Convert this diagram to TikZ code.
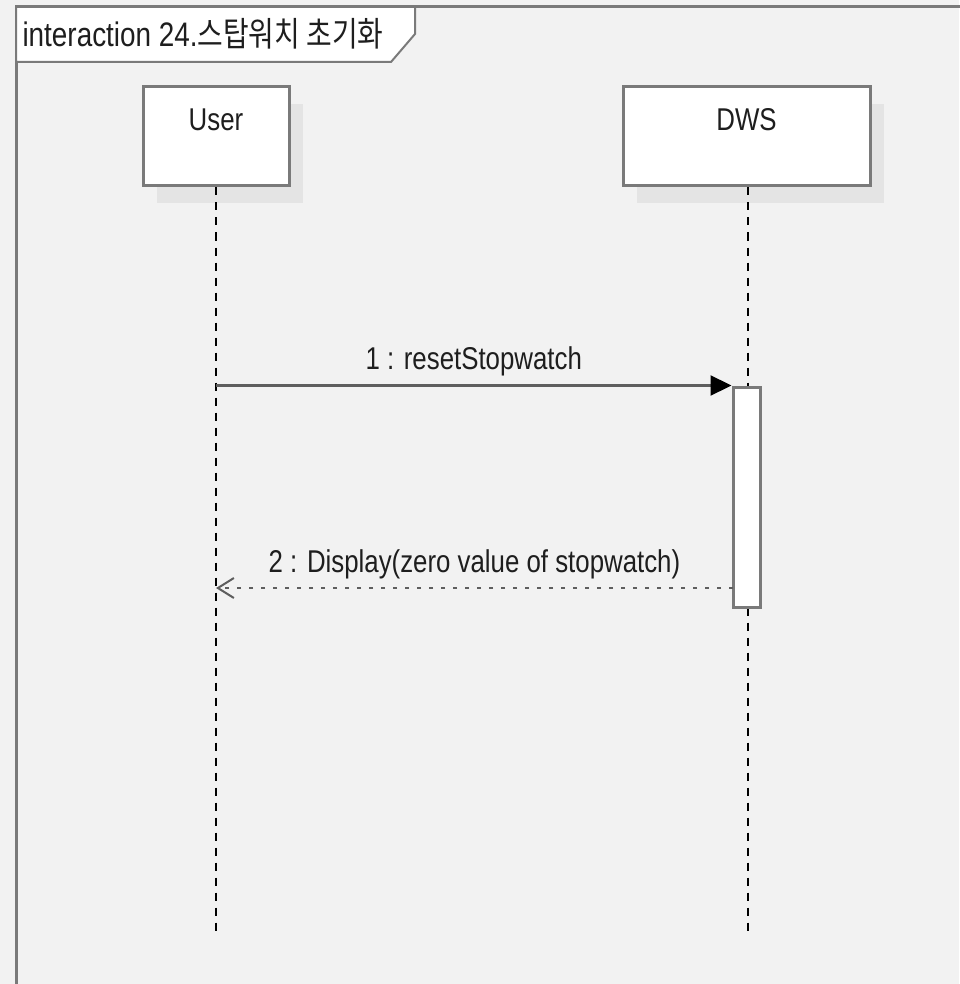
\documentclass[tikz,border=0pt]{standalone}
\usepackage{fontspec}
\setmainfont{Liberation Sans}[FakeStretch=0.82]
\newfontfamily\krfont{Noto Sans CJK KR}[FakeStretch=0.82]
\usetikzlibrary{arrows.meta,positioning,shadows}
\definecolor{bgcol}{HTML}{F2F2F2}
\definecolor{edgecol}{HTML}{7A7A7A}
\definecolor{msgcol}{HTML}{5E5E5E}
\definecolor{shadowcol}{HTML}{E4E4E4}
\definecolor{txtcol}{HTML}{1E1E1E}
\begin{document}
\begin{tikzpicture}[x=1pt,y=-1pt,
  every node/.style={font=\fontsize{31.5}{36}\selectfont, text=txtcol},
  lifebox/.style={draw=edgecol, line width=3pt, fill=white, inner sep=0pt,
    minimum height=99pt, text height=44pt, text depth=55pt,
    drop shadow={shadow xshift=14pt, shadow yshift=-17pt, fill=shadowcol, opacity=1}},
  actbox/.style={draw=edgecol, line width=3pt, fill=white, inner sep=0pt,
    minimum width=27pt, minimum height=220pt},
  lifeline/.style={black, line width=1.8pt, dash pattern=on 8pt off 7pt},
  msg/.style={msgcol, line width=2.2pt, -{Triangle[length=21pt,width=20pt,color=black,fill=black]}},
  reply/.style={msgcol, line width=2.8pt, dash pattern=on 4pt off 8pt,
    -{Straight Barb[length=16pt,width=20pt,line width=2pt,color=msgcol]}}]
\fill[bgcol] (0,0) rectangle (959,984);
\useasboundingbox (0,0) rectangle (959,984);
% frame
\draw[edgecol, line width=3pt] (16,990) -- (16,7) -- (965,7);
\draw[edgecol, line width=2pt, fill=white] (16,7) -- (415,7) -- (415,34) -- (391,62) -- (16,62) -- cycle;
\node[anchor=base west, font=\fontsize{34}{38}\selectfont] (title) at (19,47)
  {interaction 24.{\krfont 스탑워치 초기화}};
% lifelines
\node[lifebox, minimum width=146pt] (user) at (216,136.5) {User};
\node[lifebox, minimum width=247pt] (dws) at (746.5,136.5) {DWS};
\coordinate (userend) at (216,932);
\coordinate (dwsend) at (748,932);
\draw[lifeline] (user.south) -- (userend);
\draw[lifeline] (dws.south -| dwsend) -- (dwsend);
\node[actbox] (act) at (746.5,497) {};
% messages
\coordinate (ret) at (733,588);
\draw[msg] (user |- act.north west) -- (act.north west)
  node[midway, above=5pt] (m1) {1 : resetStopwatch};
\draw[reply] (ret) -- (user |- ret)
  node[midway, above=4pt] (m2) {2 : Display(zero value of stopwatch)};
\end{tikzpicture}
\end{document}
